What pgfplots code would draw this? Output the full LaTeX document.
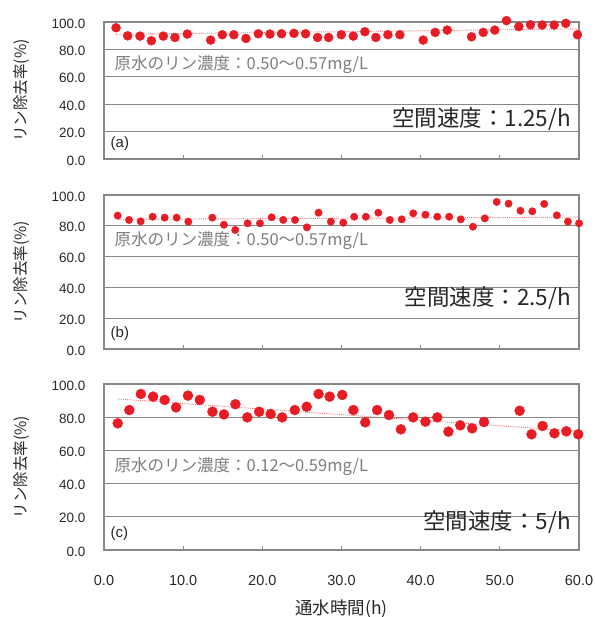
\documentclass[border=0pt]{standalone}
\usepackage{fontspec}
\setmainfont{Liberation Sans}
\newfontfamily\jp{Noto Sans CJK JP}
\usepackage{pgfplots}
\pgfplotsset{compat=1.18}
\definecolor{mred}{RGB}{232,28,36}
\definecolor{gridgray}{RGB}{135,135,135}
\definecolor{notegray}{RGB}{125,125,125}
\definecolor{txt}{RGB}{40,40,40}
\pgfplotsset{
 panel/.style={
  scale only axis, width=475pt,
  xmin=0, xmax=60, ymin=0, ymax=100,
  xtick={0,10,...,60}, ytick={0,20,...,100},
  ymajorgrids, grid style={gridgray, line width=1pt},
  axis line style={gridgray, line width=1.3pt},
  ytick style={draw=none},
  xtick style={gridgray, line width=0.8pt},
  xtick pos=bottom, tick align=inside, major tick length=4pt,
  clip=false,
  /pgf/number format/fixed, /pgf/number format/fixed zerofill,
  /pgf/number format/precision=1, /pgf/number format/assume math mode=true,
  yticklabel style={font=\fontsize{13.5}{15}\selectfont, text=txt, xshift=-15pt, yshift=-1.5pt},
  xticklabel style={font=\fontsize{14.5}{16}\selectfont, text=txt, yshift=-22pt},
  ylabel={\jp リン除去率(\%)},
  every axis y label/.style={at={(axis description cs:0,0.5)}, rotate=90, anchor=center, yshift=82pt, font=\fontsize{15.5}{17}\selectfont, text=txt},
 },
 pts/.style={only marks, mark=*, color=mred, mark options={draw=mred, fill=mred}},
 trend/.style={color=mred!60, densely dotted, line width=0.9pt},
}
\begin{document}
\begin{tikzpicture}
\useasboundingbox (0,0) rectangle (594pt,-617pt);
% (a)
\begin{axis}[panel, at={(104pt,-22pt)}, anchor=north west, height=137pt, xticklabels={}]
\addplot[trend] coordinates {(1.5,91) (60,95)};
\addplot[pts, mark size=4.5pt] coordinates {
(1.52,95.8) (2.99,89.9) (4.55,89.7) (5.98,86.3) (7.49,89.7) (8.96,88.7) (10.52,91.2) (13.47,86.8) (14.94,90.7) (16.4,90.7) (17.93,88.0) (19.49,91.4) (20.96,91.2) (22.43,91.4) (23.99,91.7) (25.46,91.4) (26.98,88.7) (28.37,88.7) (29.97,90.7) (31.48,89.7) (32.95,92.9) (34.34,88.7) (35.86,90.7) (37.37,90.7) (40.32,86.8) (41.83,92.4) (43.35,94.1) (46.42,89.2) (47.9,92.4) (49.36,94.1) (50.84,101.0) (52.4,96.6) (53.87,98.0) (55.35,97.8) (56.86,97.8) (58.33,99.0) (59.8,90.7)};
\node[anchor=west, text=notegray, font=\fontsize{16.5}{18}\selectfont] at (axis cs:0.9,69) {\jp 原水のリン濃度：0.50～0.57mg/L};
\node[anchor=east, text=txt, font=\fontsize{22.5}{24}\selectfont] at (axis cs:59.4,29) {\jp 空間速度：1.25/h};
\node[anchor=west, text=txt, font=\fontsize{15}{17}\selectfont] at (axis cs:0.4,11) {(a)};
\end{axis}
% (b)
\begin{axis}[panel, at={(104pt,-195pt)}, anchor=north west, height=154pt, xticklabels={}]
\addplot[trend] coordinates {(1.7,84.2) (60,85.6)};
\addplot[pts, mark size=3.7pt] coordinates {
(1.73,86.6) (3.16,83.8) (4.63,82.9) (6.14,85.9) (7.66,85.3) (9.17,85.3) (10.65,82.7) (13.68,85.3) (15.15,80.7) (16.58,77.3) (18.14,81.6) (19.7,81.6) (21.17,85.5) (22.64,83.8) (24.12,83.8) (25.63,79.0) (27.1,88.5) (28.66,82.7) (30.22,82.0) (31.6,85.9) (33.08,85.9) (34.64,88.5) (36.1,83.8) (37.6,84.2) (39.06,88.1) (40.6,87.2) (42.1,85.9) (43.6,85.9) (45.07,84.2) (46.6,79.4) (48.1,84.8) (49.6,95.5) (51.1,94.4) (52.6,89.8) (54.1,89.4) (55.6,94.2) (57.2,86.8) (58.6,82.7) (60.0,81.6)};
\node[anchor=west, text=notegray, font=\fontsize{16.5}{18}\selectfont] at (axis cs:0.9,70.5) {\jp 原水のリン濃度：0.50～0.57mg/L};
\node[anchor=east, text=txt, font=\fontsize{22.5}{24}\selectfont] at (axis cs:59.4,33) {\jp 空間速度：2.5/h};
\node[anchor=west, text=txt, font=\fontsize{15}{17}\selectfont] at (axis cs:0.4,10) {(b)};
\end{axis}
% (c)
\begin{axis}[panel, at={(104pt,-384pt)}, anchor=north west, height=166pt,
  xlabel={\jp 通水時間(h)},
  every axis x label/.style={at={(axis description cs:0.5,0)}, anchor=center, yshift=-59pt, font=\fontsize{17.5}{19}\selectfont, text=txt}]
\addplot[trend] coordinates {(1.7,91) (60,71.5)};
\addplot[pts, mark size=5pt] coordinates {
(1.73,76.3) (3.2,84.3) (4.65,94.0) (6.2,92.4) (7.66,90.4) (9.1,85.9) (10.6,93.0) (12.1,90.4) (13.7,83.3) (15.15,81.7) (16.6,87.8) (18.1,79.9) (19.6,83.3) (21.05,81.9) (22.5,79.9) (24.1,84.3) (25.6,86.3) (27.1,94.0) (28.5,92.4) (30.1,93.4) (31.5,84.3) (33.0,76.9) (34.5,84.3) (36.0,81.3) (37.5,72.7) (39.05,79.9) (40.6,77.3) (42.1,79.9) (43.5,71.3) (45.0,75.1) (46.5,73.3) (48.0,77.1) (52.5,83.9) (54.0,69.7) (55.4,74.7) (56.9,70.3) (58.4,71.5) (59.9,69.7)};
\node[anchor=west, text=notegray, font=\fontsize{16.5}{18}\selectfont] at (axis cs:0.9,50.5) {\jp 原水のリン濃度：0.12～0.59mg/L};
\node[anchor=east, text=txt, font=\fontsize{22.5}{24}\selectfont] at (axis cs:59.4,17) {\jp 空間速度：5/h};
\node[anchor=west, text=txt, font=\fontsize{15}{17}\selectfont] at (axis cs:0.4,10) {(c)};
\end{axis}
\end{tikzpicture}
\end{document}
